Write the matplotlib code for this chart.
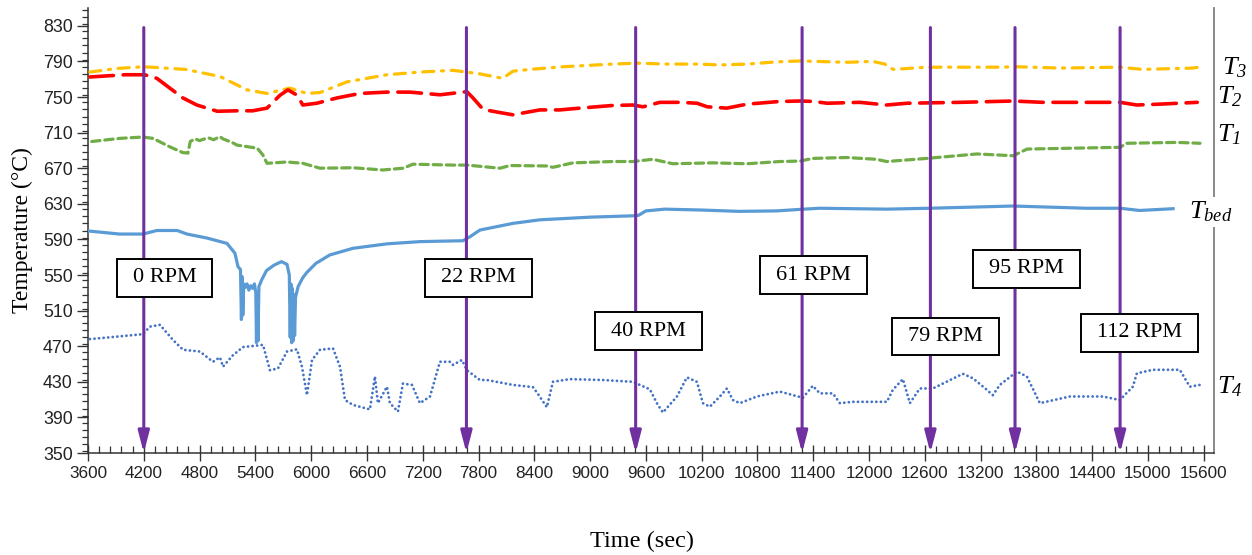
import matplotlib
matplotlib.use("Agg")
import matplotlib.pyplot as plt
from matplotlib.path import Path
from matplotlib.ticker import MultipleLocator
import numpy as np

plt.rcParams['mathtext.fontset'] = 'custom'
plt.rcParams['mathtext.rm'] = 'Liberation Serif:italic'
plt.rcParams['mathtext.it'] = 'Liberation Serif:italic'
plt.rcParams['mathtext.default'] = 'it'
plt.rcParams['lines.scale_dashes'] = False

# ---------------- data ----------------
T3_time = [3620, 3900, 4200, 4650, 5020, 5310, 5525, 5770, 5955, 6095, 6385, 6815, 7170, 7525,
           7815, 8060, 8170, 8350, 8710, 9245, 9500, 9830, 10150, 10400, 10690, 11010, 11260,
           11760, 12040, 12170, 12260, 12620, 13410, 13590, 14050, 14700, 14940, 15480, 15580]
T3_vals = [778, 782, 784, 781, 773, 758, 754, 760, 754, 755, 767, 775, 778, 780,
           776, 771, 779, 781, 784, 787, 788, 787, 787, 786, 787, 789.5, 790.5,
           789, 790, 787, 781, 783.5, 783.5, 784, 782.5, 783.5, 781, 782.5, 784]

T2_time = [3620, 4000, 4210, 4340, 4480, 4620, 4770, 4990, 5200, 5370, 5525, 5665, 5750, 5850,
           5910, 6060, 6280, 6525, 6815, 7060, 7385, 7675, 7740, 7850, 8030, 8170, 8460, 8675,
           8890, 9245, 9460, 9570, 9750, 9970, 10150, 10260, 10470, 10690, 11040, 11260, 11400,
           11550, 11900, 12190, 12410, 12980, 13550, 13870, 14700, 14880, 15130, 15530]
T2_vals = [772.5, 775, 775, 771, 760, 749, 741, 734, 734.5, 734.5, 737.5, 752, 758, 752,
           741, 743, 749, 754, 755.5, 755.5, 752.5, 756, 749, 736, 732.5, 730, 735.5, 735.5,
           737.5, 740.5, 741, 739, 744, 744, 743, 739, 737.5, 742, 745, 745.5, 745,
           743, 744, 741, 743, 744, 745.5, 744, 744, 741, 742, 744]

T1_time = [3640, 3940, 4190, 4300, 4480, 4620, 4675, 4700, 4750, 4800, 4840, 4900, 4950, 5020,
           5050, 5100, 5150, 5200, 5420, 5480, 5525, 5740, 5910, 6095, 6450, 6770, 6990, 7095,
           7525, 7675, 8030, 8140, 8535, 8600, 8815, 9245, 9460, 9675, 9890, 10320, 10690,
           11040, 11260, 11395, 11760, 12080, 12190, 12620, 13160, 13550, 13700, 14700, 14770,
           15310, 15560]
T1_vals = [700, 703.5, 705, 703.5, 694, 687.5, 687, 700, 703, 701, 702.5, 704, 702, 705.5,
           703, 701, 699, 696, 692.5, 685, 675.5, 677, 675.5, 670, 670.5, 668, 670, 674.5,
           673.5, 673.5, 670, 673, 672.5, 671, 676, 677.5, 677.5, 680, 675, 676, 675,
           677.5, 678, 681, 682, 680, 677.5, 681, 686, 684, 691.5, 693.5, 698,
           699, 698]

Tbed_time = [3600, 3940, 4190, 4340, 4560, 4665, 4880, 5095, 5180, 5213, 5240, 5250, 5258, 5265,
             5275, 5290, 5310, 5330, 5350, 5370, 5390, 5405, 5412, 5420, 5428, 5438, 5470, 5520,
             5600, 5680, 5740, 5765, 5775, 5782, 5790, 5798, 5806, 5814, 5822, 5832, 5860, 5910,
             5955, 6050, 6200, 6450, 6815, 7170, 7632, 7708, 7815, 8170, 8460, 9000, 9460, 9520,
             9600, 9800, 10200, 10600, 11000, 11300, 11470, 12190, 12650, 13550, 14340, 14700,
             14910, 15270]
Tbed_vals = [599.5, 596, 596, 600, 600, 596, 591.5, 585.5, 574.5, 559.5, 556, 500, 548, 505,
             540, 536, 540, 533, 538, 535, 540, 530, 474, 530, 476, 537, 545, 555,
             561, 565, 562, 550, 480, 540, 474, 535, 476, 528, 482, 525, 537, 547,
             553, 563, 572.5, 580, 585, 587.5, 588.5, 593, 600.5, 608, 612, 615, 616.5, 617,
             622, 624, 623, 621.5, 622, 624, 625, 624, 625, 627.5, 625, 625,
             622.5, 624.5]

T4_time = [3620, 3730, 4190, 4267, 4374, 4514, 4622, 4804, 4944, 5019, 5052, 5160, 5267, 5482,
           5557, 5643, 5740, 5847, 5901, 5955, 6009, 6095, 6235, 6310, 6364, 6450, 6632, 6686,
           6718, 6815, 6847, 6933, 6987, 7084, 7170, 7278, 7385, 7493, 7525, 7622, 7675, 7815,
           7890, 8170, 8385, 8428, 8535, 8600, 8783, 9138, 9460, 9643, 9718, 9783, 9934, 10041,
           10149, 10213, 10288, 10396, 10471, 10536, 10611, 10794, 11041, 11288, 11395, 11471,
           11611, 11686, 11826, 12192, 12256, 12364, 12439, 12546, 12686, 13009, 13117, 13267,
           13331, 13407, 13590, 13697, 13837, 14160, 14514, 14697, 14837, 14880, 15052, 15342,
           15450, 15557]
T4_vals = [478, 479, 483.5, 492, 494, 477, 466, 464, 452.5, 457.5, 447, 460, 469, 471.5,
           443, 445, 464, 466.5, 447, 415, 454.5, 466, 467.5, 447, 409.5, 404, 399, 436,
           406, 424.5, 406, 396.5, 428, 426.5, 406, 413.5, 452.5, 452.5, 449, 454.5, 443, 432,
           432, 426.5, 424, 418, 401.5, 430, 433, 432, 430, 421.5, 406, 395.5, 413.5, 435,
           430, 406, 402, 413.5, 422.5, 409.5, 406, 413.5, 419, 412, 425.5, 417,
           417, 406, 407.5, 407.5, 421, 433, 406, 422.5, 422.5, 439, 434, 421,
           415, 426.5, 441.5, 436, 406, 413.5, 413.5, 409.5, 424.5, 439.5, 443.5, 443.5,
           424.5, 426.5]

rpm_times = [4200, 7670, 9490, 11280, 12660, 13570, 14700]
rpm_labels = ['0 RPM', '22 RPM', '40 RPM', '61 RPM', '79 RPM', '95 RPM', '112 RPM']
rpm_label_x = [4423, 7804, 9632, 11407, 12820, 13690, 14907]
rpm_label_y = [547, 547, 487, 550, 481, 557, 485]

series_labels = [r'$T_{3}$', r'$T_{2}$', r'$T_{1}$', r'$T_{bed}$', r'$T_{4}$']

x_ticks = list(range(3600, 15601, 600))
y_ticks = list(range(350, 831, 40))

# ---------------- figure ----------------
W, H = 1252, 555
fig = plt.figure(figsize=(W / 100, H / 100), dpi=100)
L, R, T, B = 88, 1214, 8, 453
ax = fig.add_axes([L / W, 1 - B / H, (R - L) / W, (B - T) / H])
ax.set_xlim(3600, 15710)
ax.set_ylim(350, 850)

ax.plot(T3_time, T3_vals, color='#FFC000', lw=2.3, dashes=[8, 5.5, 1.5, 5.5],
        dash_capstyle='round', zorder=3)
ax.plot(T2_time, T2_vals, color='#FF0000', lw=2.6, dashes=[17, 7],
        dash_capstyle='round', zorder=3)
ax.plot(T1_time, T1_vals, color='#70AD47', lw=2.3, dashes=[6, 3.5],
        dash_capstyle='round', zorder=3)
ax.plot(Tbed_time, Tbed_vals, color='#5B9BD5', lw=2.3, zorder=3,
        solid_joinstyle='round')
ax.plot(T4_time, T4_vals, color='#4472C4', lw=2.0, dashes=[0.1, 3.2],
        dash_capstyle='round', zorder=3)

for t in rpm_times:
    ax.annotate('', xy=(t, 350), xytext=(t, 828),
                arrowprops=dict(arrowstyle='-|>,head_length=1.0,head_width=0.26',
                                color='#7030A0', lw=2.2, mutation_scale=13,
                                shrinkA=0, shrinkB=0), zorder=4)


def wide_box(x0, y0, width, height, mutation_size):
    px = 0.72 * mutation_size
    py = 0.42 * mutation_size
    x0, y0 = x0 - px, y0 - py
    x1, y1 = x0 + width + 2 * px, y0 + height + 2 * py
    return Path([(x0, y0), (x1, y0), (x1, y1), (x0, y1), (x0, y0)], closed=True)


for lx, ly, lab in zip(rpm_label_x, rpm_label_y, rpm_labels):
    ax.text(lx, ly, lab, ha='center', va='center', fontsize=16,
            family='Liberation Serif', color='black', zorder=6,
            bbox=dict(boxstyle=wide_box, facecolor='white', edgecolor='black', lw=1.4))

# series labels on right
lab_pos = [(1.007, 782.8), (1.003, 750.3), (1.003, 707.6), (0.978, 620.9), (1.003, 425.3)]
for (lx, ly), lab in zip(lab_pos, series_labels):
    ax.text(lx, ly, lab, transform=ax.get_yaxis_transform(), ha='left', va='center',
            fontsize=19, color='black', clip_on=False, zorder=7,
            bbox=dict(facecolor='white', edgecolor='none', pad=1.5))

# axes styling
ax.set_xticks(x_ticks)
ax.set_yticks(y_ticks)
ax.xaxis.set_minor_locator(MultipleLocator(120))
ax.yaxis.set_minor_locator(MultipleLocator(8))
ax.set_xlim(3600, 15710)
ax.set_ylim(350, 850)

for lbl in ax.get_xticklabels():
    lbl.set_fontfamily('Liberation Sans')
    lbl.set_fontsize(12.3)
    lbl.set_color('#222222')
for lbl in ax.get_yticklabels():
    lbl.set_fontfamily('Liberation Sans')
    lbl.set_fontsize(12.8)
    lbl.set_color('#222222')

ax.tick_params(axis='x', which='major', direction='inout', length=12, width=1.0,
               color='#333333', pad=3)
ax.tick_params(axis='x', which='minor', direction='in', length=5, width=0.9, color='#333333')
ax.tick_params(axis='y', which='major', direction='out', length=8, width=1.0,
               color='#333333', pad=3)
ax.tick_params(axis='y', which='minor', direction='out', length=4, width=0.9, color='#333333')

ax.spines['top'].set_visible(False)
ax.spines['right'].set_color('#808080')
ax.spines['right'].set_linewidth(1.3)
ax.spines['left'].set_color('#333333')
ax.spines['bottom'].set_color('#333333')
ax.spines['left'].set_linewidth(1.1)
ax.spines['bottom'].set_linewidth(1.1)

fig.text(22 / W, 1 - 230 / H, 'Temperature (°C)', rotation=90, ha='center', va='center',
         fontsize=17, family='Liberation Serif')
fig.text(642 / W, 1 - 541 / H, 'Time (sec)', ha='center', va='center',
         fontsize=17.5, family='Liberation Serif')

fig.savefig('out.png', dpi=100, facecolor='white')
